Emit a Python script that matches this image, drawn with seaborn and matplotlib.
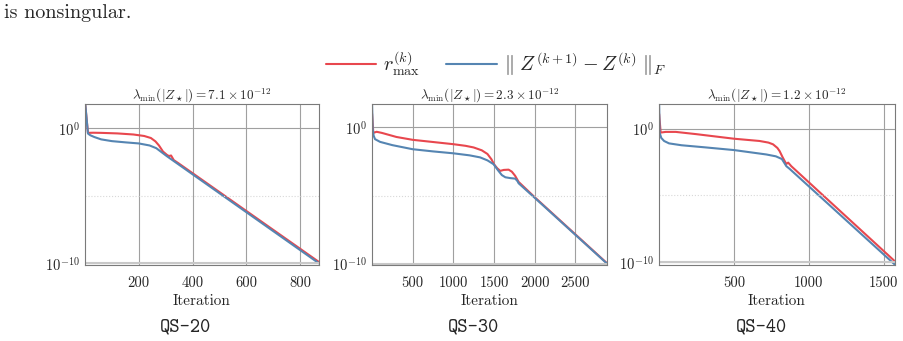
import numpy as np
import pandas as pd
import matplotlib
matplotlib.use('Agg')
import matplotlib.pyplot as plt
import seaborn as sns

# ---- data (log10 of the residuals) ----
problems = ['QS-20', 'QS-30', 'QS-40']
lambda_titles = ['7.1', '2.3', '1.2']

qs20_r_iter = [1, 11, 30, 60, 120, 180, 220, 245, 262, 275, 290, 305, 312, 320, 330, 348, 870]
qs20_r_log = [1.7, -0.37, -0.36, -0.37, -0.41, -0.49, -0.6, -0.75, -1.0, -1.3, -1.75, -2.0, -2.08, -2.04, -2.38, -2.62, -9.9]
qs20_z_iter = [1, 11, 20, 35, 60, 100, 150, 200, 240, 265, 285, 305, 870]
qs20_z_log = [1.75, -0.42, -0.55, -0.68, -0.85, -0.98, -1.07, -1.15, -1.3, -1.5, -1.8, -2.1, -10.0]

qs30_r_iter = [1, 16, 57, 120, 180, 300, 500, 750, 1000, 1150, 1250, 1350, 1420, 1470, 1500,
               1540, 1577, 1620, 1680, 1720, 1760, 1803, 2000, 2890]
qs30_r_log = [1.0, -0.4, -0.32, -0.4, -0.5, -0.7, -0.91, -1.07, -1.23, -1.35, -1.47, -1.68, -1.95, -2.35, -2.7,
              -3.0, -3.19, -3.12, -3.1, -3.25, -3.55, -4.0, -5.12, -9.97]
qs30_z_iter = [1, 8, 20, 37, 99, 250, 500, 750, 1000, 1200, 1330, 1420, 1495, 1550, 1597,
               1640, 1700, 1762, 1790, 1803, 2000, 2890]
qs30_z_log = [1.72, -0.12, -0.6, -0.86, -1.06, -1.3, -1.6, -1.76, -1.9, -2.05, -2.2, -2.42, -2.7, -3.15, -3.5,
              -3.66, -3.72, -3.76, -3.95, -4.1, -5.16, -10.0]

qs40_r_iter = [1, 11, 45, 112, 250, 500, 671, 730, 761, 790, 805, 825, 839, 850, 862, 883, 1575]
qs40_r_log = [1.1, -0.3, -0.25, -0.25, -0.42, -0.76, -0.93, -1.05, -1.18, -1.45, -1.69, -2.15, -2.44, -2.65, -2.55, -2.82, -9.95]
qs40_z_iter = [1, 4, 15, 34, 67, 150, 300, 500, 716, 780, 820, 850, 872, 1575]
qs40_z_log = [1.84, -0.3, -0.7, -0.93, -1.11, -1.25, -1.4, -1.61, -1.94, -2.08, -2.28, -2.82, -3.02, -10.2]

r_iters = [qs20_r_iter, qs30_r_iter, qs40_r_iter]
r_logs = [qs20_r_log, qs30_r_log, qs40_r_log]
z_iters = [qs20_z_iter, qs30_z_iter, qs40_z_iter]
z_logs = [qs20_z_log, qs30_z_log, qs40_z_log]

x_max = [870, 2890, 1575]
y_lims = [(-10.12, 1.76), (-10.1, 1.72), (-10.22, 1.84)]
x_ticks = [[200, 400, 600, 800], [500, 1000, 1500, 2000, 2500], [500, 1000, 1500]]

red = '#e8474e'
blue = '#5585b2'

sns.set_theme(style='white')
plt.rcParams['font.family'] = 'serif'
plt.rcParams['font.serif'] = ['cmr10', 'DejaVu Serif']
plt.rcParams['mathtext.fontset'] = 'cm'
plt.rcParams['axes.formatter.use_mathtext'] = True

fig = plt.figure(figsize=(9.04, 3.41), dpi=100)
fig.text(0.004, 0.962, 'is nonsingular.', fontsize=14.5, va='center', ha='left')

lefts = [85, 372, 659]
widths = [234, 235, 236]
for i in range(3):
    ax = fig.add_axes([lefts[i] / 904, 76 / 341, widths[i] / 904, 161 / 341])
    df_r = pd.DataFrame({'Iteration': r_iters[i], 'value': np.power(10.0, r_logs[i])})
    df_z = pd.DataFrame({'Iteration': z_iters[i], 'value': np.power(10.0, z_logs[i])})
    sns.lineplot(data=df_r, x='Iteration', y='value', ax=ax, color=red, lw=1.5,
                 label=r'$r^{(k)}_{\max}$')
    sns.lineplot(data=df_z, x='Iteration', y='value', ax=ax, color=blue, lw=1.5,
                 label=r'$\Vert\ Z^{(k+1)} - Z^{(k)}\ \Vert_F$')
    ax.set_yscale('log')
    ax.set_xlim(0, x_max[i])
    ax.set_ylim(10 ** y_lims[i][0], 10 ** y_lims[i][1])
    ax.set_yticks([1e-10, 1e0])
    ax.set_yticklabels([r'$10^{-10}$', r'$10^{0}$'])
    ax.minorticks_off()
    ax.set_xticks(x_ticks[i])
    ax.set_xticklabels([str(t) for t in x_ticks[i]])
    ax.tick_params(axis='x', length=0, labelsize=10.5, pad=8)
    ax.tick_params(axis='y', length=0, labelsize=10.5, pad=4)
    ax.grid(True, color='#a0a0a0', lw=0.8)
    ax.axhline(1e-5, color='#d8d8d8', lw=0.8, ls=':')
    ax.axhline(1e-10, color='#c8c8c8', lw=1.5)
    for s in ax.spines.values():
        s.set_color('#7a7a7a')
        s.set_linewidth(0.8)
    ax.set_ylabel('')
    ax.set_xlabel('Iteration', fontsize=11, labelpad=3)
    ax.set_title(r'$\lambda_{\min}(|Z_\star|) = ' + lambda_titles[i] + r' \times 10^{-12}$',
                 fontsize=9.5, pad=3)
    ax.get_legend().remove()
    cx = (lefts[i] + widths[i] / 2 - 16) / 904
    fig.text(cx, (341 - 327) / 341, problems[i], family='cmtt10', fontsize=14,
             ha='center', va='center')
    if i == 0:
        handles, labels = ax.get_legend_handles_labels()

fig.legend(handles, labels, loc='center', bbox_to_anchor=(496 / 904, (341 - 64) / 341),
           ncol=2, frameon=False, fontsize=14.5, handlelength=2.5, handletextpad=0.35,
           columnspacing=1.3)

fig.savefig('out.png', dpi=100)
